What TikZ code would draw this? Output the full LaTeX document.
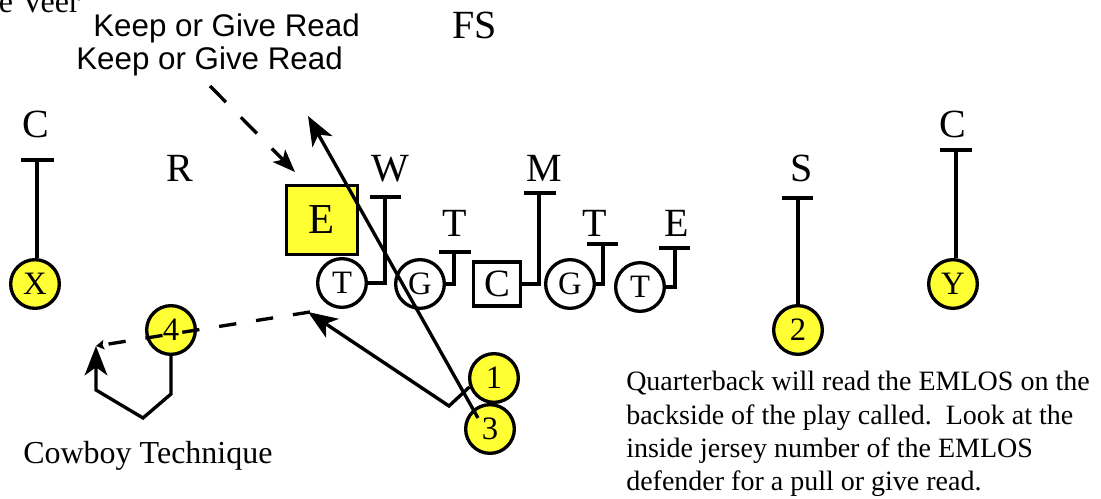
\documentclass[tikz,border=0pt]{standalone}
\usepackage{fontspec}
\setmainfont{Liberation Serif}
\newfontfamily\arialf{Liberation Sans}
\usetikzlibrary{arrows.meta}
\definecolor{qbyellow}{RGB}{255,255,51}
\begin{document}
\begin{tikzpicture}[x=0.75pt,y=-0.75pt,
  pl/.style={circle,draw,line width=2.5pt,minimum size=36.5pt,inner sep=0pt,font=\fontsize{24.5}{24.5}\selectfont},
  yel/.style={pl,fill=qbyellow},
  deflbl/.style={anchor=base,inner sep=0pt,font=\fontsize{30}{30}\selectfont},
  ln/.style={line width=2.5pt},
  bigtip/.style={-{Stealth[length=22pt,width=17pt,inset=6pt]}},
  midtip/.style={-{Stealth[length=17pt,width=13pt,inset=4pt]}},
  smalltip/.style={-{Stealth[length=6pt,width=7pt,inset=1pt]}},
  txt/.style={anchor=base west,inner sep=0pt},
]
\useasboundingbox (0,0) rectangle (1101,499);

% titles and notes
\node[anchor=base east,inner sep=0pt,font=\fontsize{24}{24}\selectfont] (veer) at (80,13) {e Veer};
\node[txt,font=\arialf\fontsize{23.5}{23.5}\selectfont] (keep1) at (93,37) {Keep or Give Read};
\node[txt,font=\arialf\fontsize{23.5}{23.5}\selectfont] (keep2) at (76,70) {Keep or Give Read};
\node[txt,font=\fontsize{24}{24}\selectfont] (cowboy) at (23,463) {Cowboy Technique};
\begin{scope}[every node/.style={txt,font=\fontsize{21}{21}\selectfont}]
\node (q1) at (626,391) {Quarterback will read the EMLOS on the};
\node (q2) at (626,424) {backside of the play called.\ \ Look at the};
\node (q3) at (626,457) {inside jersey number of the EMLOS};
\node (q4) at (626,490) {defender for a pull or give read.};
\end{scope}

% defenders
\node[deflbl] (FS) at (475,39) {FS};
\node[deflbl] (cL) at (36,138) {C};
\node[deflbl] (R) at (180,182) {R};
\node[deflbl] (W) at (390,182) {W};
\node[deflbl] (M) at (544,182) {M};
\node[deflbl] (S) at (802,182) {S};
\node[deflbl] (cR) at (953,138) {C};
\node[deflbl] (tL) at (455,237) {T};
\node[deflbl] (tR) at (595,237) {T};
\node[deflbl] (eR) at (677,237) {E};
\node[draw,fill=qbyellow,line width=2.5pt,minimum width=53pt,minimum height=52pt,inner sep=0pt,font=\fontsize{32}{32}\selectfont] (eBox) at (322,220) {E};

% offense
\node[pl] (oT) at (342,283) {T};
\node[pl] (oG) at (420,284) {G};
\node[draw,line width=2.5pt,minimum width=35.5pt,minimum height=33pt,inner sep=0pt,font=\fontsize{29}{29}\selectfont] (oC) at (497,284) {C};
\node[pl] (oG2) at (570,284) {G};
\node[pl] (oT2) at (640,287) {T};
\node[yel] (X) at (35,284) {X};
\node[yel] (Y) at (953,284) {Y};
\node[yel] (n2) at (798,330) {2};
\node[yel] (n4) at (171,330) {4};
\node[yel] (n1) at (494,378) {1};
\node[yel] (n3) at (490,429) {3};

% defender marks
\coordinate (barCL) at (37,160);
\draw[ln] (21,160) -- (54,160);
\draw[ln] (barCL) -- (barCL |- X.north);
\coordinate (barCR) at (956,150);
\draw[ln] (940,150) -- (972,150);
\draw[ln] (barCR) -- (barCR |- Y.north);
\coordinate (barS) at (798,198);
\draw[ln] (782,198) -- (813,198);
\draw[ln] (barS) -- (n2.north);
\coordinate (barW) at (385,197);
\draw[ln] (370,197) -- (401,197);
\draw[ln] (barW) |- (oT.east);
\coordinate (barTL) at (454,252);
\draw[ln] (439,252) -- (471,252);
\draw[ln] (barTL) |- (oG.east);
\coordinate (barM) at (539,193);
\draw[ln] (524,193) -- (556,193);
\draw[ln] (barM) |- (oC.east);
\coordinate (barTR) at (603,244);
\draw[ln] (587,244) -- (618,244);
\draw[ln] (barTR) |- (oG2.east);
\coordinate (barER) at (675,248);
\draw[ln] (659,248) -- (690,248);
\draw[ln] (barER) |- (oT2.east);

% routes
\coordinate (readStart) at (210,86);
\coordinate (readTip) at (295,172);
\draw[ln,midtip,dash pattern=on 17pt off 16pt] (readStart) -- (readTip);
\coordinate (q3start) at (478,418);
\coordinate (keepTip) at (308,116);
\draw[ln,bigtip] (q3start) -- (keepTip);
\coordinate (q1bend) at (449,406);
\coordinate (q1tip) at (308,312);
\draw[ln,bigtip] (n1.200) -- (q1bend) -- (q1tip);
\coordinate (pitchStart) at (310,312);
\coordinate (pitchTip) at (96,346);
\draw[ln,smalltip,dash pattern=on 13pt off 15pt] (pitchStart) -- (pitchTip);
\coordinate (cb1) at (143,418);
\coordinate (cb2) at (96,390);
\draw[ln,bigtip] (n4.south) -- ++(0,38) -- (cb1) -- (cb2) -- (pitchTip);
\end{tikzpicture}
\end{document}
